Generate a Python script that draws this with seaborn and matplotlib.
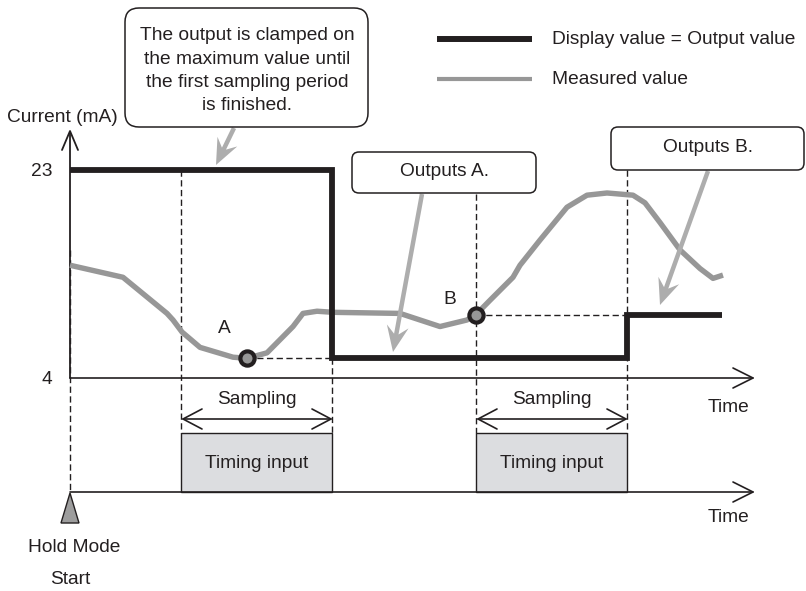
import matplotlib.pyplot as plt
import matplotlib.transforms as mtransforms
from matplotlib.patches import FancyBboxPatch, Rectangle, Polygon, FancyArrow
import seaborn as sns

# --- data (time in arbitrary units, current in mA) ---
meas_t = [0, 53, 97, 103, 112, 130, 163, 177, 197, 223, 233, 247, 263, 330,
          370, 397, 406, 420, 443, 450, 470, 497, 517, 537, 563, 575, 590,
          610, 630, 643, 653]
meas_ma = [14.3, 13.2, 9.9, 9.3, 8.2, 6.8, 5.9, 5.8, 6.3, 8.7, 9.9, 10.1,
           10.0, 9.9, 8.7, 9.3, 9.8, 11.1, 13.2, 14.3, 16.6, 19.6, 20.7,
           20.9, 20.7, 20.0, 18.2, 15.7, 14.0, 13.1, 13.4]
out_t = [0, 262, 262, 557, 557, 652]
out_ma = [23, 23, 5.8, 5.8, 9.8, 9.8]
sample_start = [111, 406]
sample_end = [262, 557]
held_names = ['A', 'B']
held_t = [177, 406]
held_ma = [5.8, 9.8]
tick_ma = [4, 23]
tick_labels = ['4', '23']

callout_lines = ['The output is clamped on', 'the maximum value until',
                 'the first sampling period', 'is finished.']

INK = '#231f20'
GREY = '#979797'
ARROW = '#adadad'
BOX = '#dcdde0'
FS = 13.8

sns.set_style('white')
plt.rcParams['font.family'] = ['Liberation Sans', 'DejaVu Sans']

W, H = 806, 591
PX_PER_MA = 208 / 19.0   # 4 mA -> 378 px, 23 mA -> 170 px

fig = plt.figure(figsize=(W / 100, H / 100), dpi=100)

# data axes
ax = fig.add_axes([0, 0, 1, 1])
ax.set_xlim(-70, W - 70)
ax.set_ylim(4 - (H - 378) / PX_PER_MA, 4 + 378 / PX_PER_MA)
ax.axis('off')

# overlay in pixel units for text and callouts
lay = fig.add_axes([0, 0, 1, 1])
lay.set_xlim(0, W)
lay.set_ylim(H, 0)
lay.axis('off')

bx = mtransforms.blended_transform_factory(ax.transData, lay.transData)

# axes of the chart
ax.plot([0, 0], [378, 132], transform=bx, color=INK, lw=1.3, zorder=2)
ax.plot([-8, 0, 8], [150, 131, 150], transform=bx, color=INK, lw=1.3, zorder=2)
for yy in [378, 492]:
    ax.plot([0, 683], [yy, yy], transform=bx, color=INK, lw=1.2, zorder=2)
    ax.plot([663, 683, 663], [yy - 10, yy, yy + 10], transform=bx, color=INK, lw=1.2, zorder=2)

# dashed guides
dash = dict(color=INK, lw=1.0, ls=(0, (4.5, 2.5)), zorder=1)
ax.plot([0, 0], [250, 492], transform=bx, **dash)
ax.plot([sample_start[0]] * 2, [170, 433], transform=bx, **dash)
ax.plot([sample_end[0]] * 2, [358, 433], transform=bx, **dash)
ax.plot([sample_start[1]] * 2, [194, 433], transform=bx, **dash)
ax.plot([sample_end[1]] * 2, [170, 433], transform=bx, **dash)
for t0, t1, v in zip(held_t, sample_end, held_ma):
    ax.plot([t0, t1], [v, v], **dash)

# timing input boxes and sampling spans
for t0, t1 in zip(sample_start, sample_end):
    ax.add_patch(Rectangle((t0, 433), t1 - t0, 59, transform=bx, fc=BOX, ec=INK, lw=1.0, zorder=1.5))
    ax.text((t0 + t1) / 2, 463, 'Timing input', transform=bx, ha='center', va='center',
            fontsize=FS, color=INK, zorder=3)
    ax.plot([t0 + 2, t1 - 1], [419, 419], transform=bx, color=INK, lw=1.2)
    ax.plot([t0 + 21, t0 + 2, t0 + 21], [409, 419, 429], transform=bx, color=INK, lw=1.2)
    ax.plot([t1 - 20, t1 - 1, t1 - 20], [409, 419, 429], transform=bx, color=INK, lw=1.2)
    ax.text((t0 + t1) / 2, 399, 'Sampling', transform=bx, ha='center', va='center',
            fontsize=FS, color=INK)

# hold mode start marker
ax.add_patch(Polygon([(0, 493), (-9, 523), (9, 523)], closed=True, transform=bx,
                     fc='#9d9d9d', ec=INK, lw=1.0))

# curves
sns.lineplot(x=meas_t, y=meas_ma, sort=False, estimator=None, color=GREY, lw=3.9,
             solid_joinstyle='round', solid_capstyle='butt', zorder=3, ax=ax)
sns.lineplot(x=out_t, y=out_ma, sort=False, estimator=None, color=INK, lw=4.2,
             solid_joinstyle='miter', solid_capstyle='butt', zorder=4, ax=ax)
sns.scatterplot(x=held_t, y=held_ma, s=105, color=GREY, edgecolor=INK, linewidth=3.0,
                zorder=6, ax=ax)
for name, t, v, dx, dy in zip(held_names, held_t, held_ma, [-23, -26], [-30, -15]):
    ax.annotate(name, (t, v), xytext=(dx * 0.72, -dy * 0.72),
                textcoords='offset points', ha='center', va='center', fontsize=FS, color=INK)

# axis labels
for v, lab in zip(tick_ma, tick_labels):
    lay.text(52, 378 - (v - 4) * PX_PER_MA + 1, lab, ha='right', va='center', fontsize=FS, color=INK)
lay.text(62, 117, 'Current (mA)', ha='center', va='center', fontsize=FS, color=INK)
lay.text(728, 407, 'Time', ha='center', va='center', fontsize=FS, color=INK)
lay.text(728, 518, 'Time', ha='center', va='center', fontsize=FS, color=INK)
lay.text(74, 548, 'Hold Mode', ha='center', va='center', fontsize=FS, color=INK)
lay.text(70, 580, 'Start', ha='center', va='center', fontsize=FS, color=INK)

# legend
lay.plot([437, 532], [39, 39], color=INK, lw=4.3, solid_capstyle='butt')
lay.plot([437, 532], [79, 79], color=GREY, lw=3.0, solid_capstyle='butt')
lay.text(552, 39, 'Display value = Output value', va='center', fontsize=FS, color=INK)
lay.text(552, 80, 'Measured value', va='center', fontsize=FS, color=INK)

# callouts
def callout(x0, y0, x1, y1, r):
    lay.add_patch(FancyBboxPatch((x0, y0), x1 - x0, y1 - y0,
                                 boxstyle=f'round,pad=0,rounding_size={r}',
                                 fc='white', ec=INK, lw=1.1, zorder=5))

callout(125, 8, 368, 127, 14)
for i, line in enumerate(callout_lines):
    lay.text(247, 36 + i * 23.3, line, ha='center', va='center', fontsize=FS, color=INK, zorder=6)
callout(352, 152, 536, 193, 7)
lay.text(444, 172, 'Outputs A.', ha='center', va='center', fontsize=FS, color=INK, zorder=6)
callout(611, 127, 804, 170, 7)
lay.text(708, 148, 'Outputs B.', ha='center', va='center', fontsize=FS, color=INK, zorder=6)

for (x0, y0), (x1, y1) in [((234, 128), (216, 165)), ((422, 194), (393, 352)),
                           ((708, 171), (660, 305))]:
    lay.add_patch(FancyArrow(x0, y0, x1 - x0, y1 - y0, width=4.5, head_width=22,
                             head_length=26, overhang=0.3, length_includes_head=True,
                             fc=ARROW, ec='none', zorder=4))

fig.savefig('out.png', dpi=100)
